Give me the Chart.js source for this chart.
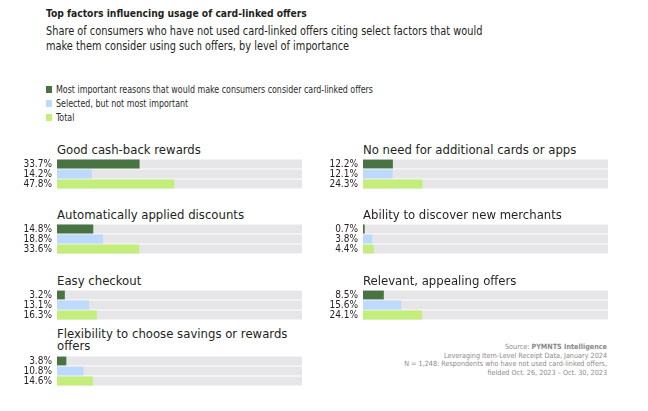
<!DOCTYPE html>
<html>
<head>
<meta charset="utf-8">
<script src="https://cdn.jsdelivr.net/npm/chart.js@4.4.1/dist/chart.umd.min.js"></script>
<style>
	body { margin: 0; background: #fff; }
	#page { position: relative; width: 648px; height: 411px; overflow: hidden; font-family: "DejaVu Sans Condensed", "DejaVu Sans", sans-serif; color: #231f20; }
	.abs { position: absolute; white-space: nowrap; }
	.title { left: 46px; top: 7.3px; font-size: 11.2px; font-weight: bold; transform: scaleX(0.915); transform-origin: left top; }
	.subtitle { left: 46px; top: 23px; font-size: 13px; line-height: 15px; transform: scaleX(0.837); transform-origin: left top; }
	.legend { left: 46px; font-size: 10.5px; line-height: 12px; color: #2b2b2b; }
	.legend span.box { position: absolute; left: 0; top: 3px; width: 6px; height: 7px; }
	.legend span.text { position: absolute; left: 9.5px; top: 0; transform: scaleX(0.84); transform-origin: left top; }
	.panel-title { font-size: 13px; line-height: 12.5px; }
	.source { right: 41px; top: 342.6px; font-size: 7.2px; line-height: 8.9px; color: #8a8a8a; text-align: right; }
	canvas { position: absolute; }
</style>
</head>
<body>
<div id="page">
	<div class="abs title">Top factors influencing usage of card-linked offers</div>
	<div class="abs subtitle">Share of consumers who have not used card-linked offers citing select factors that would<br>make them consider using such offers, by level of importance</div>
	<div class="abs source">Source: <b>PYMNTS Intelligence</b><br>Leveraging Item-Level Receipt Data, January 2024<br>N = 1,248: Respondents who have not used card-linked offers,<br>fielded Oct. 26, 2023 – Oct. 30, 2023</div>
</div>
<script>
// chart data
const categories = ['Good cash-back rewards', 'Automatically applied discounts', 'Easy checkout', ['Flexibility to choose savings or rewards', 'offers'], 'No need for additional cards or apps', 'Ability to discover new merchants', 'Relevant, appealing offers'];
const seriesNames = ['Most important reasons that would make consumers consider card-linked offers', 'Selected, but not most important', 'Total'];
const mostImportant = [33.7, 14.8, 3.2, 3.8, 12.2, 0.7, 8.5];
const selectedNotMost = [14.2, 18.8, 13.1, 10.8, 12.1, 3.8, 15.6];
const total = [47.8, 33.6, 16.3, 14.6, 24.3, 4.4, 24.1];
const trackMax = [100, 100, 100];

const colors = ['#4a7344', '#bddafd', '#c4ee7c'];
const trackColor = '#e6e6e8';
const fontFamily = '"DejaVu Sans Condensed", "DejaVu Sans", sans-serif';

let page = document.getElementById('page');

// legend
let legendTops = [82.5, 96.5, 111];
for(let i = 0; i < seriesNames.length; i++)
{
	let div = document.createElement('div');
	div.className = 'abs legend';
	div.style.top = legendTops[i] + 'px';
	div.innerHTML = '<span class="box" style="background:' + colors[i] + '"></span><span class="text">' + seriesNames[i] + '</span>';
	page.appendChild(div);
}

// panel slots: column offset and bar top
let slots = [
	{ left: 0, top: 158.6 },
	{ left: 0, top: 224.2 },
	{ left: 0, top: 289.8 },
	{ left: 0, top: 355.5 },
	{ left: 306, top: 158.6 },
	{ left: 306, top: 224.2 },
	{ left: 306, top: 289.8 }
];

for(let i = 0; i < categories.length; i++)
{
	let slot = slots[i];
	let lines = Array.isArray(categories[i]) ? categories[i] : [categories[i]];
	let title = document.createElement('div');
	title.className = 'abs panel-title';
	title.style.left = (slot.left + 57) + 'px';
	title.style.top = (slot.top - 2.6 - lines.length * 12.5) + 'px';
	title.innerHTML = lines.join('<br>');
	page.appendChild(title);

	let canvas = document.createElement('canvas');
	canvas.width = 310;
	canvas.height = 30;
	canvas.style.left = slot.left + 'px';
	canvas.style.top = slot.top + 'px';
	canvas.style.width = '310px';
	canvas.style.height = '30px';
	page.appendChild(canvas);

	let values = [mostImportant[i], selectedNotMost[i], total[i]];
	new Chart(canvas, {
		type: 'bar',
		data: {
			labels: values.map(v => v.toFixed(1) + '%'),
			datasets: [
				{
					data: values,
					backgroundColor: colors,
					grouped: false,
					order: 0,
					barPercentage: 0.88,
					categoryPercentage: 1
				},
				{
					data: trackMax,
					backgroundColor: trackColor,
					grouped: false,
					order: 1,
					barPercentage: 0.88,
					categoryPercentage: 1
				}
			]
		},
		options: {
			indexAxis: 'y',
			responsive: false,
			animation: false,
			layout: { padding: { left: 0, right: 8, top: 0, bottom: 0 } },
			plugins: { legend: { display: false }, tooltip: { enabled: false } },
			scales: {
				x: { display: false, min: 0, max: 100 },
				y: {
					grid: { display: false, drawTicks: false },
					border: { display: false },
					afterFit: function(scale)
						{
							scale.width = 57;
							scale.paddingTop = 0;
							scale.paddingBottom = 0;
						},
					ticks: {
						autoSkip: false,
						padding: 5,
						color: '#231f20',
						font: { family: fontFamily, size: 10, lineHeight: 1 }
					}
				}
			}
		}
	});
}
</script>
</body>
</html>
